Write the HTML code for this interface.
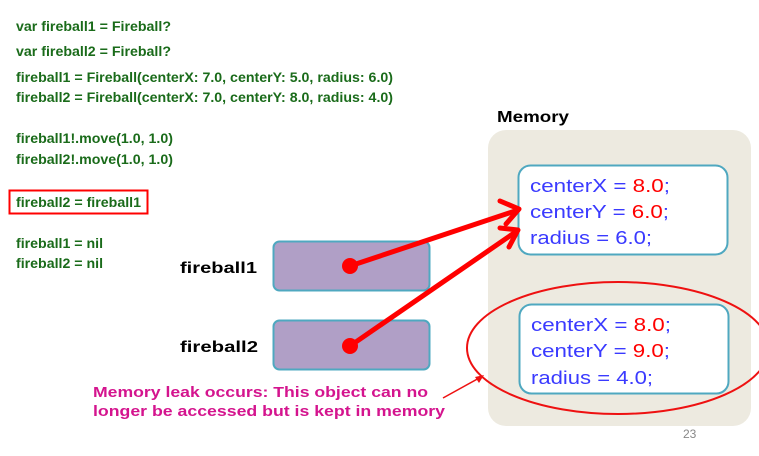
<!DOCTYPE html>
<html><head><meta charset="utf-8"><style>
html,body{margin:0;padding:0;background:#fff;}
svg{display:block;}
.c{font-family:"Liberation Sans",sans-serif;font-weight:bold;font-size:13.5px;fill:#1a6b1a;}
.m{font-family:"Liberation Sans",sans-serif;font-size:18px;fill:#3a3aff;}
.r{fill:#ff0000;}
.k{font-family:"Liberation Sans",sans-serif;font-weight:bold;font-size:16px;fill:#000;}
.p{font-family:"Liberation Sans",sans-serif;font-weight:bold;font-size:14.5px;fill:#d4148e;}
</style></head><body>
<svg width="759" height="456" viewBox="0 0 759 456" xmlns="http://www.w3.org/2000/svg">
<text class="c" x="16" y="31" textLength="155" lengthAdjust="spacingAndGlyphs">var fireball1 = Fireball?</text>
<text class="c" x="16" y="56" textLength="155" lengthAdjust="spacingAndGlyphs">var fireball2 = Fireball?</text>
<text class="c" x="16" y="82" textLength="377" lengthAdjust="spacingAndGlyphs">fireball1 = Fireball(centerX: 7.0, centerY: 5.0, radius: 6.0)</text>
<text class="c" x="16" y="102" textLength="377" lengthAdjust="spacingAndGlyphs">fireball2 = Fireball(centerX: 7.0, centerY: 8.0, radius: 4.0)</text>
<text class="c" x="16" y="143" textLength="157" lengthAdjust="spacingAndGlyphs">fireball1!.move(1.0, 1.0)</text>
<text class="c" x="16" y="164" textLength="157" lengthAdjust="spacingAndGlyphs">fireball2!.move(1.0, 1.0)</text>
<rect x="9.5" y="190.5" width="138" height="23" fill="none" stroke="#ff0000" stroke-width="2"/>
<text class="c" x="16" y="207" textLength="125" lengthAdjust="spacingAndGlyphs">fireball2 = fireball1</text>
<text class="c" x="16" y="248" textLength="87" lengthAdjust="spacingAndGlyphs">fireball1 = nil</text>
<text class="c" x="16" y="268" textLength="87" lengthAdjust="spacingAndGlyphs">fireball2 = nil</text>

<text class="k" x="497" y="122" textLength="72" lengthAdjust="spacingAndGlyphs">Memory</text>
<rect x="488" y="130" width="263" height="296" rx="18" fill="#edeae0"/>
<rect x="518.5" y="165.5" width="209" height="89" rx="12" fill="#fff" stroke="#4fa8c0" stroke-width="2"/>
<text class="m" x="530" y="192" textLength="140" lengthAdjust="spacingAndGlyphs">centerX = <tspan class="r">8.0</tspan>;</text>
<text class="m" x="530" y="218" textLength="139" lengthAdjust="spacingAndGlyphs">centerY = <tspan class="r">6.0</tspan>;</text>
<text class="m" x="530" y="244" textLength="122" lengthAdjust="spacingAndGlyphs">radius = 6.0;</text>
<rect x="519.5" y="304.5" width="209" height="89" rx="12" fill="#fff" stroke="#4fa8c0" stroke-width="2"/>
<text class="m" x="531" y="331" textLength="140" lengthAdjust="spacingAndGlyphs">centerX = <tspan class="r">8.0</tspan>;</text>
<text class="m" x="531" y="357" textLength="139" lengthAdjust="spacingAndGlyphs">centerY = <tspan class="r">9.0</tspan>;</text>
<text class="m" x="531" y="384" textLength="122" lengthAdjust="spacingAndGlyphs">radius = 4.0;</text>
<ellipse cx="618" cy="348" rx="151" ry="66" fill="none" stroke="#ee1111" stroke-width="2"/>
<text x="683" y="438" font-family="Liberation Sans,sans-serif" font-size="12" fill="#888">23</text>

<text class="k" x="180" y="273" textLength="77" lengthAdjust="spacingAndGlyphs">fireball1</text>
<text class="k" x="180" y="352" textLength="78" lengthAdjust="spacingAndGlyphs">fireball2</text>
<rect x="273.5" y="241.5" width="156" height="49" rx="6" fill="#b09fc6" stroke="#4fa8c0" stroke-width="2"/>
<rect x="273.5" y="320.5" width="156" height="49" rx="6" fill="#b09fc6" stroke="#4fa8c0" stroke-width="2"/>
<g stroke="#ff0000" stroke-width="5" fill="none" stroke-linecap="round" stroke-linejoin="round">
<line x1="350" y1="266" x2="518" y2="210"/>
<polyline points="500,201 519,209 506,224"/>
<line x1="350" y1="346" x2="517" y2="231"/>
<polyline points="500,228 518,230 509,247"/>
</g>
<circle cx="350" cy="266" r="8" fill="#ff0000"/>
<circle cx="350" cy="346" r="8" fill="#ff0000"/>
<text class="p" x="93" y="397" textLength="335" lengthAdjust="spacingAndGlyphs">Memory leak occurs: This object can no</text>
<text class="p" x="93" y="416" textLength="352" lengthAdjust="spacingAndGlyphs">longer be accessed but is kept in memory</text>
<line x1="443" y1="398" x2="481" y2="377" stroke="#ee1111" stroke-width="1.5"/>
<polygon points="484,375 475,377 479,383" fill="#ee1111"/>
</svg>
</body></html>
